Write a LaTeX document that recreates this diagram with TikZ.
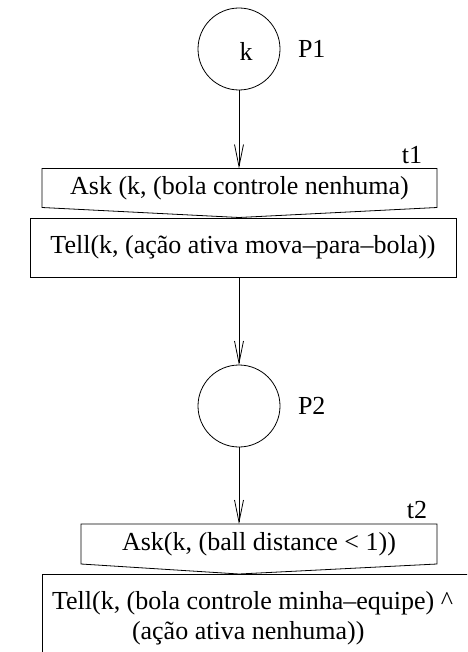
\documentclass[tikz,border=0pt]{standalone}
\usepackage{fontspec}
\setmainfont{Liberation Serif}
\usetikzlibrary{arrows.meta,positioning,calc}

\begin{document}
\begin{tikzpicture}
  [x=1pt,y=-1pt,line width=.8pt,
   every node/.style={inner sep=0pt,outer sep=0pt,font=\fontsize{26}{30}\selectfont},
   place/.style={circle,draw,minimum size=82pt},
   askbox/.style={rectangle,minimum height=39pt},
   tellbox/.style={rectangle,draw},
   arc/.style={-{Straight Barb[length=22pt,width=9pt]}}]
  \useasboundingbox (0,0) rectangle (467,652);
  \clip (0,0) rectangle (467,652);

  \node[place] (p1) at (239,49) {};
  \node (k) at (246,51) {k};
  \node (p1name) [right=18pt of p1] {P1};

  \node (t1) at (412,155) {t1};
  \node[askbox,minimum width=395pt] (ask1) at (239.5,188) {Ask (k, (bola controle nenhuma)};
  \node[tellbox,minimum width=426pt,minimum height=59pt] (tell1) at (243,247.5) {Tell(k, (ação ativa mova--para--bola))};

  \node[place] (p2) at (239,406) {};
  \node (p2name) [right=18pt of p2] {P2};

  \node (t2) at (417,510) {t2};
  \node[askbox,minimum width=356pt,minimum height=40pt] (ask2) at (259,544) {Ask(k, (ball distance < 1))};
  \node[tellbox,anchor=north west,minimum width=460pt,minimum height=110pt] (tell2) at (42,574) {};
  \node[align=left,anchor=west] (tell2text) at (52,618) {Tell(k, (bola controle minha--equipe) \textasciicircum\\\hspace*{80pt}(ação ativa nenhuma))};

  % ask boxes with pointed bottom
  \draw (ask1.north west) -- (ask1.north east) -- (ask1.south east)
    -- ($(p1 |- ask1.south)+(0,10)$) -- (ask1.south west) -- cycle;
  \draw (ask2.north west) -- (ask2.north east) -- (ask2.south east)
    -- ($(p2 |- ask2.south)+(0,10)$) -- (ask2.south west) -- cycle;

  \draw[arc] (p1.south) -- (p1 |- ask1.north);
  \draw[arc] (p1 |- tell1.south) -- (p2.north);
  \draw[arc] (p2.south) -- (p2 |- ask2.north);
\end{tikzpicture}
\end{document}
